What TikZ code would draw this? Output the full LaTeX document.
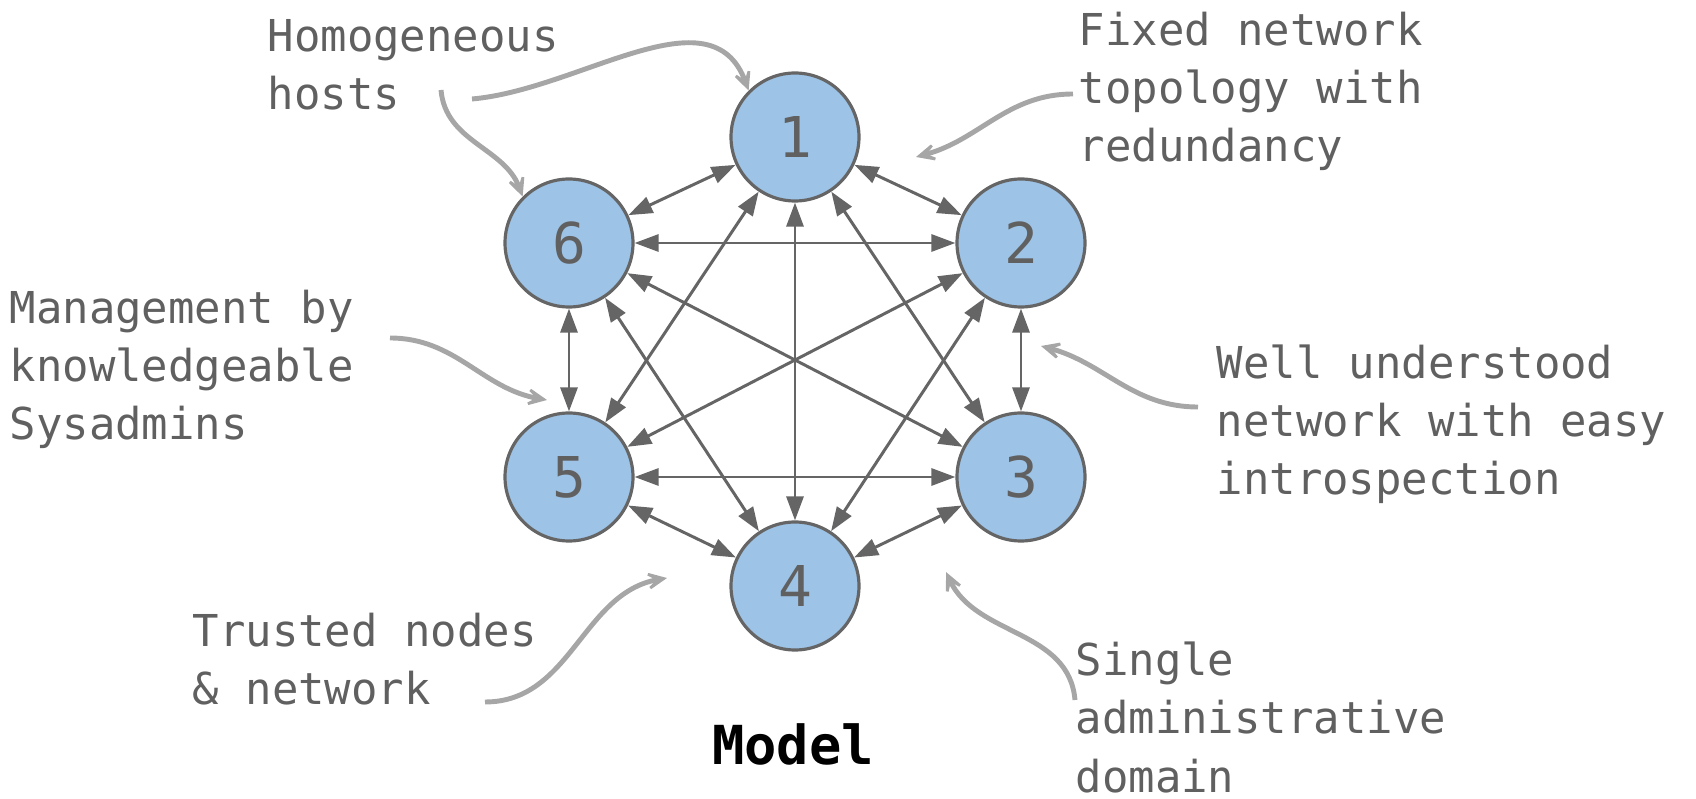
\documentclass[tikz,border=0pt]{standalone}
\usepackage{fontspec}
\setmainfont{DejaVu Sans Mono}
\usetikzlibrary{arrows.meta}
\definecolor{nodeblue}{HTML}{9DC3E6}
\definecolor{darkline}{HTML}{656565}
\definecolor{textgray}{HTML}{606060}
\definecolor{notegray}{HTML}{A6A6A6}

\begin{document}
\begin{tikzpicture}

\tikzset{vertex/.style = {shape=circle,draw=darkline,line width=0.9pt,fill=nodeblue,minimum size=1.28cm,inner sep=0pt,text=textgray,font=\fontsize{16}{19}\selectfont}}
\tikzset{link/.style = {{Triangle[length=0.24cm,width=0.17cm]}-{Triangle[length=0.24cm,width=0.17cm]},draw=darkline,line width=0.85pt}}
\tikzset{note/.style = {anchor=base west,align=left,inner sep=0pt,text=textgray,font=\fontsize{12.5}{16.6}\selectfont}}
\tikzset{pointer/.style = {-{Stealth[length=0.3cm,width=0.28cm,inset=0.19cm]},draw=notegray,line width=1.4pt}}
\useasboundingbox (0,0) rectangle (16.96,7.99);
%verticies
\node[vertex] (1) at (7.95,6.62) {1};
\node[vertex] (2) at (10.21,5.56) {2};
\node[vertex] (3) at (10.21,3.22) {3};
\node[vertex] (4) at (7.95,2.13) {4};
\node[vertex] (5) at (5.69,3.22) {5};
\node[vertex] (6) at (5.69,5.56) {6};
%edges
\draw[link] (1) -- (2);
\draw[link] (1) -- (3);
\draw[link] (1) -- (4);
\draw[link] (1) -- (5);
\draw[link] (1) -- (6);
\draw[link] (2) -- (3);
\draw[link] (2) -- (4);
\draw[link] (2) -- (5);
\draw[link] (2) -- (6);
\draw[link] (3) -- (4);
\draw[link] (3) -- (5);
\draw[link] (3) -- (6);
\draw[link] (4) -- (5);
\draw[link] (4) -- (6);
\draw[link] (5) -- (6);
%notes (anchored at the last line)
\node[note] (homog) at (2.67,6.89) {Homogeneous\\hosts};
\node[note] (fixed) at (10.78,6.37) {Fixed network\\topology with\\redundancy};
\node[note] (mgmt) at (0.09,3.59) {Management by\\knowledgeable\\Sysadmins};
\node[note] (well) at (12.16,3.04) {Well understood\\network with easy\\introspection};
\node[note] (trust) at (1.92,0.94) {Trusted nodes\\\& network};
\node[note] (single) at (10.75,0.07) {Single\\administrative\\domain};
\node[anchor=base,inner sep=0pt,font=\fontsize{15.3}{18}\selectfont\bfseries] (model) at (7.93,0.34) {Model};
%pointers
\coordinate (homog-a) at (4.72,7.00);
\coordinate (homog-b) at (4.41,7.09);
\coordinate (fixed-a) at (10.73,7.05);
\coordinate (fixed-b) at (9.16,6.42);
\coordinate (mgmt-a) at (3.90,4.61);
\coordinate (mgmt-b) at (5.47,3.99);
\coordinate (well-a) at (11.98,3.92);
\coordinate (well-b) at (10.41,4.53);
\coordinate (trust-a) at (4.85,0.97);
\coordinate (trust-b) at (6.67,2.21);
\coordinate (single-a) at (10.75,0.99);
\coordinate (single-b) at (9.46,2.27);
\draw[pointer] (homog-a) to[out=5,in=110] (1.135);
\draw[pointer] (homog-b) to[out=-85,in=110] (6.135);
\draw[pointer] (fixed-a) to[out=180,in=15] (fixed-b);
\draw[pointer] (mgmt-a) to[out=0,in=170] (mgmt-b);
\draw[pointer] (well-a) to[out=180,in=-15] (well-b);
\draw[pointer] (trust-a) to[out=0,in=190] (trust-b);
\draw[pointer] (single-a) to[out=95,in=-65] (single-b);

\end{tikzpicture}
\end{document}
